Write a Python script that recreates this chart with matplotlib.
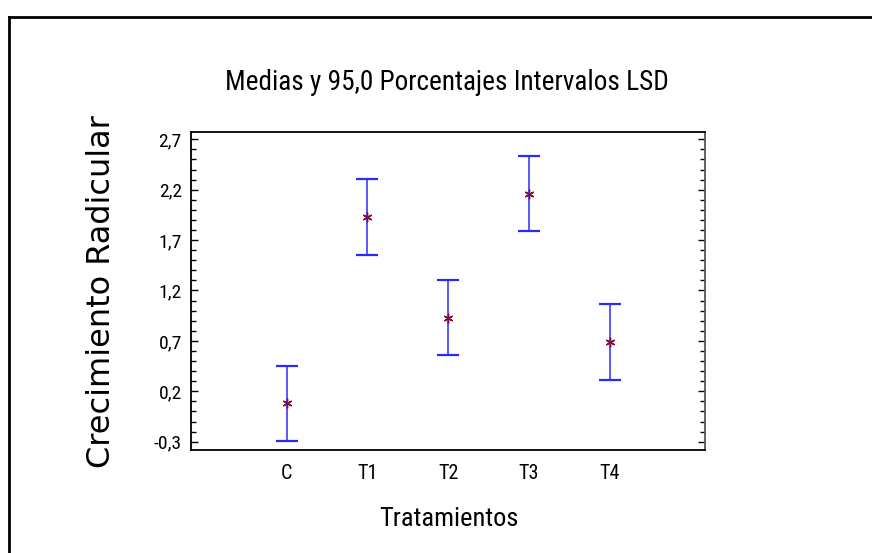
import os
import matplotlib
matplotlib.use("Agg")
import matplotlib.pyplot as plt
from matplotlib.lines import Line2D
from matplotlib.ticker import MultipleLocator
from matplotlib import font_manager as fm

tratamientos = ["C", "T1", "T2", "T3", "T4"]
medias = [0.08, 1.93, 0.93, 2.16, 0.69]
lsd = [0.373, 0.373, 0.373, 0.373, 0.373]
y_ticks = [-0.3, 0.2, 0.7, 1.2, 1.7, 2.2, 2.7]
y_labels = ["-0,3", "0,2", "0,7", "1,2", "1,7", "2,2", "2,7"]


def fuente_estrecha():
    # buscar una fuente condensada (tipo Arial Narrow); si no hay, Liberation Sans
    preferidas = ["LiberationSansNarrow-Regular", "RobotoCondensed-Regular",
                  "DejaVuSansCondensed.", "OpenSans_Condensed-Regular",
                  "OpenSans-CondensedRegular", "NotoSans-CondensedRegular",
                  "RobotoCondensed"]
    archivos = [f.fname for f in fm.fontManager.ttflist]
    for p in preferidas:
        for a in archivos:
            if p in os.path.basename(a):
                return fm.FontProperties(fname=a), 1.0
    return fm.FontProperties(family="Liberation Sans"), 0.85


fp, escala = fuente_estrecha()


def fprop(size):
    p = fp.copy()
    p.set_size(size * escala)
    return p


fig = plt.figure(figsize=(8.72, 5.53), dpi=100)
ax = fig.add_axes([0.2196, 0.1854, 0.5889, 0.5764])

x = list(range(1, len(tratamientos) + 1))
ax.errorbar(x, medias, yerr=lsd, fmt="none", ecolor="#2a2aff",
            elinewidth=1.1, capsize=8, capthick=1.6)
ax.plot(x, medias, linestyle="none", marker=(6, 2, 0), markersize=7,
        color="#7a1040", markeredgewidth=1.0)

ax.set_xlim(3 - 3.176, 3 + 3.176)
ax.set_ylim(-0.387, 2.775)

ax.set_xticks(x)
ax.set_xticklabels(tratamientos, fontproperties=fprop(14.5))
ax.tick_params(axis="x", length=0, pad=10)

ax.set_yticks(y_ticks)
ax.set_yticklabels(y_labels, fontproperties=fprop(14))
ax.yaxis.set_minor_locator(MultipleLocator(0.1))
ax.tick_params(axis="y", which="both", direction="in", left=True, right=True,
               width=1.0, pad=7)
ax.tick_params(axis="y", which="major", length=5)
ax.tick_params(axis="y", which="minor", length=3.5)

for s in ax.spines.values():
    s.set_linewidth(1.3)
    s.set_color("black")
ax.spines["right"].set_color("#555555")

fig.text(447 / 872, 1 - 82 / 553, "Medias y 95,0 Porcentajes Intervalos LSD",
         fontproperties=fprop(19.6), ha="center", va="center")
fig.text(449 / 872, 1 - 519 / 553, "Tratamientos",
         fontproperties=fprop(19), ha="center", va="center")
fig.text(102 / 872, 1 - 292 / 553, "Crecimiento Radicular",
         family=["DejaVu Sans"], fontsize=23, rotation=90,
         ha="center", va="center")

# marco exterior
x0, y0 = 9 / 872, 1 - 17 / 553
fig.add_artist(Line2D([x0, 1.01], [y0, y0], transform=fig.transFigure,
                      color="black", linewidth=2))
fig.add_artist(Line2D([x0, x0], [y0, -0.01], transform=fig.transFigure,
                      color="black", linewidth=2))

fig.savefig("out.png", dpi=100)
